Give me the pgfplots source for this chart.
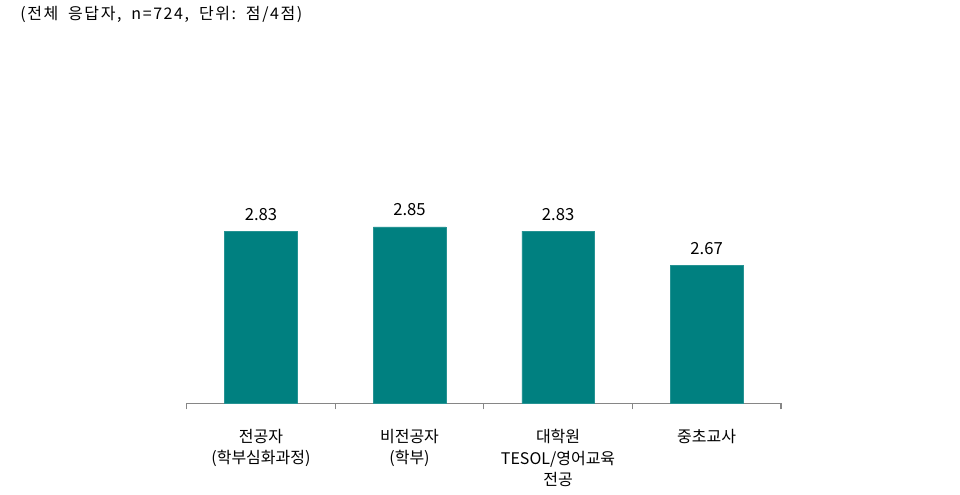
\documentclass[border=0pt]{standalone}
\usepackage{pgfplots}
\pgfplotsset{compat=1.18}
\usepackage{fontspec}
\setmainfont{Noto Sans CJK KR}
\newfontfamily\titlefont[LetterSpace=10]{Noto Sans CJK KR}
\definecolor{barteal}{RGB}{0,128,128}
\definecolor{axgray}{RGB}{134,134,134}
\newcommand{\wsp}{\ \hspace{3.5pt}}
\begin{document}
\begin{tikzpicture}
\path[use as bounding box] (0,0) rectangle (720pt,370.5pt);
\node[anchor=west, font=\titlefont\fontsize{12}{15}\selectfont, inner sep=0pt] at (15pt,359.5pt) {(전체\wsp 응답자,\wsp n=724,\wsp 단위:\wsp 점/4점)};
\begin{axis}[
  at={(140pt,68pt)}, anchor=south west,
  scale only axis, width=445.7pt, height=156.5pt,
  xmin=-0.5, xmax=3.5, ymin=2.025, ymax=3.0,
  axis x line=bottom, axis y line=none,
  x axis line style={draw=axgray, -, line width=0.9pt},
  xtick={0,1,2,3},
  xticklabels={{전공자\\(학부심화과정)},{비전공자\\(학부)},{대학원\\TESOL/영어교육\\전공},{중초교사}},
  xticklabel style={align=center, font=\fontsize{12}{16}\selectfont, text=black, yshift=-16pt},
  major tick length=0pt,
  minor xtick={-0.5,0.5,1.5,2.5,3.5},
  minor tick length=4.5pt,
  xtick align=inside,
  minor tick style={draw=axgray, line width=0.9pt},
  ybar, bar width=54.4pt,
  nodes near coords,
  every node near coord/.append style={font=\fontsize{12.5}{15}\selectfont, text=black, yshift=4.5pt},
  /pgf/number format/.cd, fixed, fixed zerofill, precision=2, assume math mode=true,
]
\addplot[fill=barteal, draw=barteal!85!white] coordinates {(0,2.83) (1,2.85) (2,2.83) (3,2.67)};
\end{axis}
\end{tikzpicture}
\end{document}
